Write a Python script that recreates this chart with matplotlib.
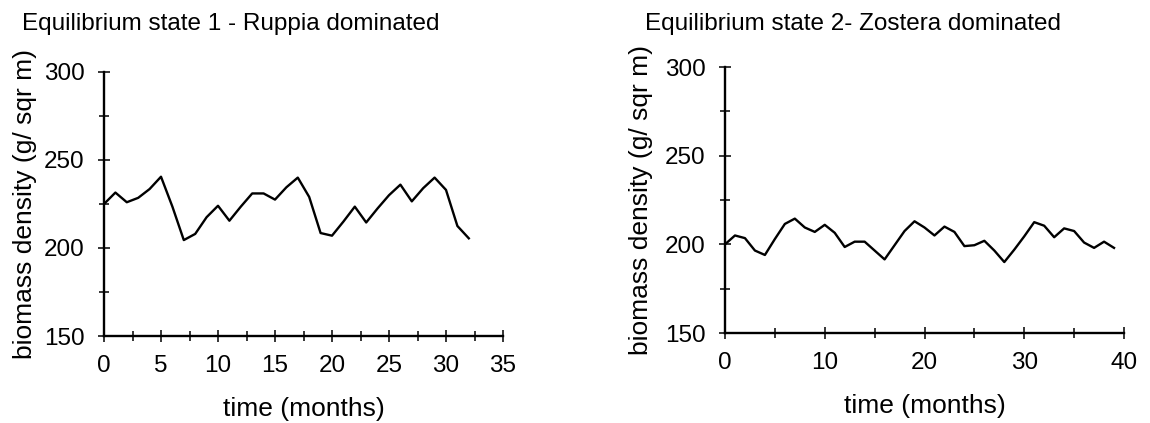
import numpy as np
import matplotlib
matplotlib.use("Agg")
import matplotlib.pyplot as plt
from matplotlib.ticker import MultipleLocator


# ============================================================
# DATA
# ============================================================
ruppia_months = np.arange(0, 33)
ruppia_biomass = [225, 231.5, 226, 228.5, 233.5, 240.5, 223.5, 204.5, 208, 217.5,
                  224, 215.5, 223.5, 231, 231, 227.5, 234.5, 240, 229, 208.5,
                  207, 215, 223.5, 214.5, 222.5, 230, 236, 226.5, 234, 240,
                  233, 212.5, 205.5]

zostera_months = np.arange(0, 40)
zostera_biomass = [200, 205, 203.5, 196.5, 194, 203, 211.5, 214.5, 209.5, 207,
                   211, 206.5, 198.5, 201.5, 201.5, 196.5, 191.5, 199.5, 207.5, 213,
                   209.5, 205, 210, 207, 199, 199.5, 202, 196.5, 190, 197,
                   204.5, 212.5, 210.5, 204, 209, 207.5, 201, 198, 201.5, 198]

TITLES = ["Equilibrium state 1 - Ruppia dominated",
          "Equilibrium state 2- Zostera dominated"]
XLABEL = "time (months)"
YLABEL = "biomass density (g/ sqr m)"


# ============================================================
# FIGURE
# ============================================================
plt.rcParams["font.family"] = ["Liberation Sans", "DejaVu Sans"]

W, H = 1150, 423
fig = plt.figure(figsize=(W / 100, H / 100), dpi=100)

ax1 = fig.add_axes([104 / W, 1 - 336 / H, 399 / W, 264 / H])
ax2 = fig.add_axes([725 / W, 1 - 333 / H, 399 / W, 266 / H])

panels = [
    (ax1, ruppia_months, ruppia_biomass, 35, 5, 2.5, -0.168),
    (ax2, zostera_months, zostera_biomass, 40, 10, 5, -0.18),
]

for ax, x, y, xmax, xmaj, xmin, ylab_x in panels:
    ax.plot(x, y, color="black", lw=1.7)
    ax.set_xlim(0, xmax)
    ax.set_ylim(150, 300)

    ax.xaxis.set_major_locator(MultipleLocator(xmaj))
    ax.xaxis.set_minor_locator(MultipleLocator(xmin))
    ax.yaxis.set_major_locator(MultipleLocator(50))
    ax.yaxis.set_minor_locator(MultipleLocator(25))

    for s in ["top", "right"]:
        ax.spines[s].set_visible(False)
    for s in ["left", "bottom"]:
        ax.spines[s].set_linewidth(1.7)

    ax.tick_params(which="both", direction="inout", width=1.1, color="black")
    ax.tick_params(which="major", length=8, labelsize=17.5, pad=10)
    ax.tick_params(which="minor", length=7)

    ax.set_xlabel(XLABEL, fontsize=19)
    ax.set_ylabel(YLABEL, fontsize=19)
    ax.xaxis.set_label_coords(0.5, -0.23)
    ax.yaxis.set_label_coords(ylab_x, 0.5)

fig.text(22 / W, 1 - 30 / H, TITLES[0], fontsize=17.5, va="baseline")
fig.text(645 / W, 1 - 30 / H, TITLES[1], fontsize=17.5, va="baseline")

plt.savefig("out.png", dpi=100)
plt.close()
